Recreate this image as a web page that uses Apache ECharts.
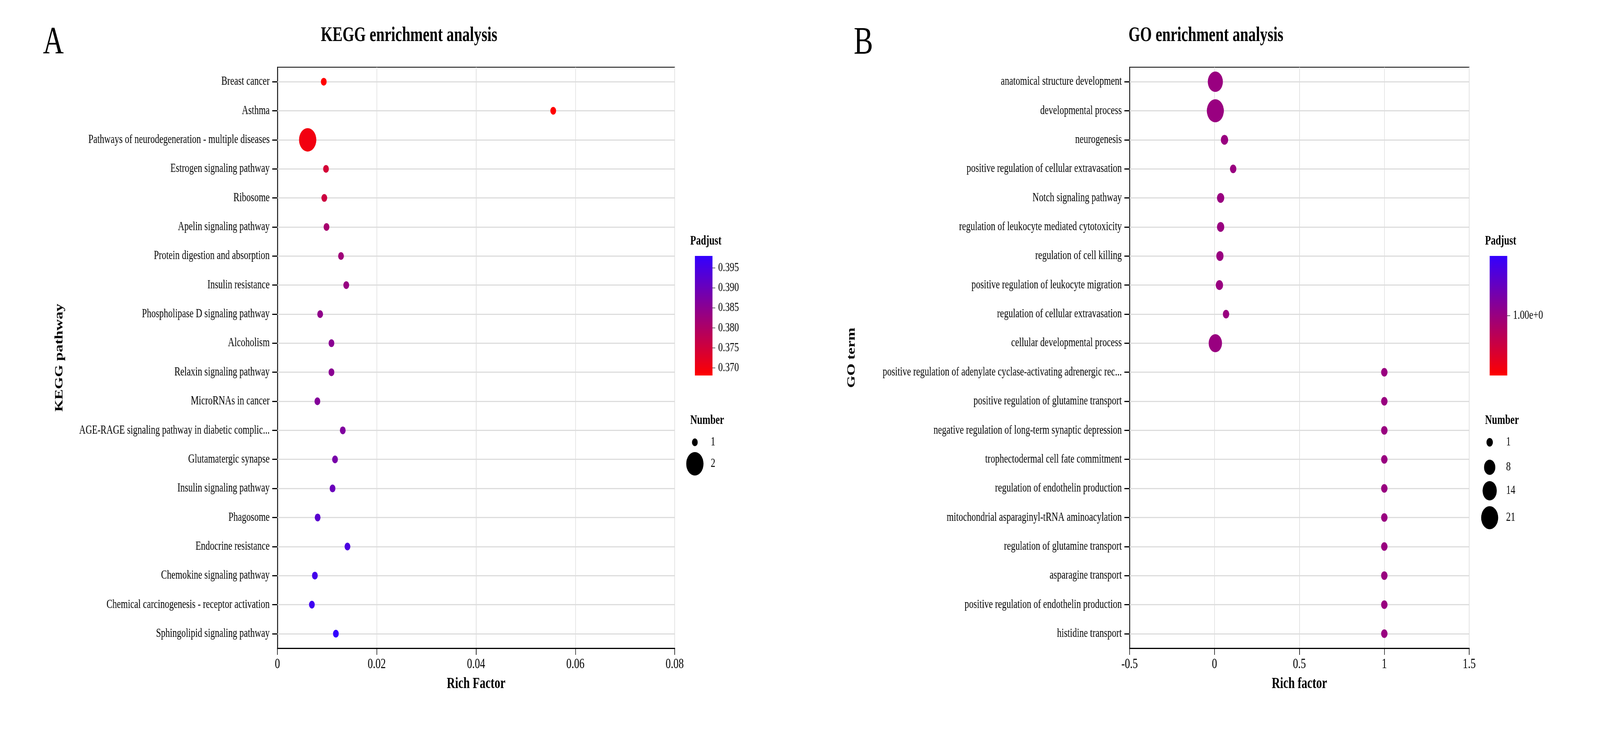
<!DOCTYPE html>
<html>
<head>
<meta charset="utf-8">
<script src="https://cdn.jsdelivr.net/npm/echarts@6/dist/echarts.min.js"></script>
<style>
html,body{margin:0;padding:0;background:#fff;overflow:hidden;}
#chart{width:5554px;height:1876px;transform-origin:0 0;}
</style>
</head>
<body>
<div id="chart"></div>
<script>
// ---------------- DATA ----------------
const keggTerms = [
  "Breast cancer","Asthma","Pathways of neurodegeneration - multiple diseases",
  "Estrogen signaling pathway","Ribosome","Apelin signaling pathway",
  "Protein digestion and absorption","Insulin resistance","Phospholipase D signaling pathway",
  "Alcoholism","Relaxin signaling pathway","MicroRNAs in cancer",
  "AGE-RAGE signaling pathway in diabetic complic...","Glutamatergic synapse","Insulin signaling pathway",
  "Phagosome","Endocrine resistance","Chemokine signaling pathway",
  "Chemical carcinogenesis - receptor activation","Sphingolipid signaling pathway"
];
const keggRichFactor = [0.00933,0.05554,0.00609,0.00978,0.00944,0.00988,0.0128,0.01386,0.0086,0.01088,
                        0.01088,0.00805,0.01316,0.0116,0.0111,0.0081,0.0141,0.00754,0.00694,0.01177];
const keggPadjust = [0.3681,0.3681,0.3700,0.3744,0.3756,0.3810,0.3822,0.3834,0.3843,0.3852,
                     0.3852,0.3861,0.3867,0.3879,0.3900,0.3924,0.3945,0.3957,0.3963,0.3980];
const keggNumber = [1,1,2,1,1,1,1,1,1,1,1,1,1,1,1,1,1,1,1,1];
const keggXTicks = {min:0, max:0.08, interval:0.02};
const keggPadjRange = [0.3681, 0.3980];
const keggPadjTicks = [0.370,0.375,0.380,0.385,0.390,0.395];
const keggNumberBreaks = [1,2];

const goTerms = [
  "anatomical structure development","developmental process","neurogenesis",
  "positive regulation of cellular extravasation","Notch signaling pathway",
  "regulation of leukocyte mediated cytotoxicity","regulation of cell killing",
  "positive regulation of leukocyte migration","regulation of cellular extravasation",
  "cellular developmental process",
  "positive regulation of adenylate cyclase-activating adrenergic rec...",
  "positive regulation of glutamine transport","negative regulation of long-term synaptic depression",
  "trophectodermal cell fate commitment","regulation of endothelin production",
  "mitochondrial asparaginyl-tRNA aminoacylation","regulation of glutamine transport",
  "asparagine transport","positive regulation of endothelin production","histidine transport"
];
const goRichFactor = [0.005,0.005,0.059,0.11,0.036,0.036,0.032,0.029,0.068,0.005,
                      1,1,1,1,1,1,1,1,1,1];
const goPadjust = [1,1,1,1,1,1,1,1,1,1,1,1,1,1,1,1,1,1,1,1];
const goNumber = [16,21,2,1,2,2,2,2,1,12,1,1,1,1,1,1,1,1,1,1];
const goXTicks = {min:-0.5, max:1.5, interval:0.5};
const goPadjRange = [0.99, 1.01];
const goPadjTicks = [1];
const goNumberBreaks = [1,8,14,21];

const gradientColors = ['#FF0000', '#3300FF']; // low -> high Padjust

// ---------------- LAYOUT ----------------
const W = 5554, H = 1876;
// fit the 5554x1876 drawing into whatever viewport the browser really has
(function fit(){
  const sx = Math.min(1, window.innerWidth / W), sy = Math.min(1, window.innerHeight / H);
  if (sx < 1 || sy < 1) document.getElementById('chart').style.transform = `scale(${sx},${sy})`;
})();

const FONT = "'Liberation Serif','Times New Roman',serif";
const panels = [
  {left:963, right:2342, top:172, bottom:1659, title:"KEGG enrichment analysis", titleX:1420,
   letter:"A", letterX:185, yName:"KEGG pathway", yNameX:207, xName:"Rich Factor",
   legX:2396, barX:2412, keyLabelX:2467, keyYs:[1132,1187]},
  {left:3921, right:5100, top:172, bottom:1659, title:"GO enrichment analysis", titleX:4186,
   letter:"B", letterX:2997, yName:"GO term", yNameX:2957, xName:"Rich factor",
   legX:5155, barX:5171, keyLabelX:5228, keyYs:[1132,1196,1256,1325]}
];
const barTop = 655, barBottom = 961, barW = 61;

function sizeFn(nMin, nMax, dMin, dMax) {
  return function(n) {
    const t = nMax === nMin ? 0 : (n - nMin) / (nMax - nMin);
    return Math.sqrt(dMin*dMin + (dMax*dMax - dMin*dMin) * t);
  };
}
const keggSize = sizeFn(1, 2, 20, 60);
const goSize = sizeFn(1, 21, 22, 59);

const datasets = [
  {terms:keggTerms, x:keggRichFactor, p:keggPadjust, n:keggNumber, ticks:keggXTicks,
   range:keggPadjRange, pticks:keggPadjTicks, fmt:v=>v.toFixed(3), breaks:keggNumberBreaks, size:keggSize},
  {terms:goTerms, x:goRichFactor, p:goPadjust, n:goNumber, ticks:goXTicks,
   range:goPadjRange, pticks:goPadjTicks, fmt:v=>v.toFixed(2)+'e+0', breaks:goNumberBreaks, size:goSize}
];

const grids = [], xAxes = [], yAxes = [], series = [], visualMaps = [], graphics = [];

datasets.forEach((d, i) => {
  const P = panels[i];
  grids.push({left:P.left, width:P.right-P.left, top:P.top, height:P.bottom-P.top,
              show:true, borderColor:'#000', borderWidth:2, backgroundColor:'transparent'});
  xAxes.push({type:'value', gridIndex:i, min:d.ticks.min, max:d.ticks.max, interval:d.ticks.interval,
    name:P.xName, nameLocation:'middle', nameGap:92,
    nameTextStyle:{fontFamily:FONT, fontSize:40, fontWeight:'bold', color:'#000', verticalAlign:'middle'},
    axisLine:{show:true, onZero:false, lineStyle:{color:'#000', width:3}},
    axisTick:{show:true, length:17, lineStyle:{color:'#000', width:2}},
    axisLabel:{fontFamily:FONT, fontSize:36, color:'#000', margin:24},
    splitLine:{show:true, lineStyle:{color:'#DDDDDD', width:2}}
  });
  yAxes.push({type:'category', gridIndex:i, data:d.terms, inverse:true, boundaryGap:true,
    name:P.yName, nameLocation:'middle', nameGap:P.left-P.yNameX, nameRotate:90,
    nameTextStyle:{fontFamily:FONT, fontSize:40, fontWeight:'bold', color:'#000', verticalAlign:'middle'},
    axisLine:{show:true, onZero:false, lineStyle:{color:'#000', width:3}},
    axisTick:{show:true, alignWithLabel:true, interval:0, length:18, lineStyle:{color:'#000', width:3}},
    axisLabel:{fontFamily:FONT, fontSize:31, color:'#000', margin:27, interval:0},
    splitLine:{show:false}
  });
  // horizontal guide lines at each category
  series.push({type:'scatter', xAxisIndex:i, yAxisIndex:i, data:[], z:1, silent:true,
    markLine:{silent:true, z:1, symbol:['none','none'], label:{show:false}, animation:false,
      lineStyle:{color:'#DDDDDD', width:3, type:'solid'},
      data:d.terms.map((t, k) => ({yAxis:k}))}
  });
  series.push({type:'scatter', xAxisIndex:i, yAxisIndex:i, z:3,
    data:d.terms.map((t, k) => [d.x[k], t, d.p[k], d.n[k]]),
    symbol:'circle',
    symbolSize:(v) => d.size(v[3]),
    itemStyle:{opacity:1}
  });
  visualMaps.push({type:'continuous', show:false, seriesIndex:series.length-1, dimension:2,
    min:d.range[0], max:d.range[1], inRange:{color:gradientColors}});

  graphics.push({type:'text', x:P.titleX, y:92, style:{text:P.title, font:`bold 52px ${FONT}`,
    fill:'#000', textAlign:'center', textVerticalAlign:'middle'}});
  graphics.push({type:'text', x:P.letterX, y:111, style:{text:P.letter, font:`100px ${FONT}`,
    fill:'#000', textAlign:'center', textVerticalAlign:'middle'}});

  graphics.push({type:'text', x:P.legX, y:617, style:{text:'Padjust', font:`bold 33px ${FONT}`,
    fill:'#000', textAlign:'left', textVerticalAlign:'middle'}});
  graphics.push({type:'rect', shape:{x:P.barX, y:barTop, width:barW, height:barBottom-barTop},
    style:{fill:new echarts.graphic.LinearGradient(0,0,0,1,[
      {offset:0, color:gradientColors[1]},{offset:1, color:gradientColors[0]}])}});
  d.pticks.forEach(v => {
    const yy = barBottom - (v - d.range[0]) / (d.range[1] - d.range[0]) * (barBottom - barTop);
    graphics.push({type:'line', shape:{x1:P.barX+barW, y1:yy, x2:P.barX+barW+10, y2:yy},
      style:{stroke:'#666', lineWidth:2}});
    graphics.push({type:'text', x:P.barX+barW+20, y:yy, style:{text:d.fmt(v), font:`32px ${FONT}`,
      fill:'#000', textAlign:'left', textVerticalAlign:'middle'}});
  });

  graphics.push({type:'text', x:P.legX, y:1076, style:{text:'Number', font:`bold 33px ${FONT}`,
    fill:'#000', textAlign:'left', textVerticalAlign:'middle'}});
  d.breaks.forEach((b, k) => {
    const yy = P.keyYs[k];
    graphics.push({type:'circle', shape:{cx:P.barX, cy:yy, r:d.size(b)/2}, style:{fill:'#000'}});
    graphics.push({type:'text', x:P.keyLabelX, y:yy, style:{text:String(b), font:`32px ${FONT}`,
      fill:'#000', textAlign:'left', textVerticalAlign:'middle'}});
  });
});

const chart = echarts.init(document.getElementById('chart'), null, {renderer:'canvas', width:W, height:H});
chart.setOption({
  backgroundColor:'#fff',
  animation:false,
  textStyle:{fontFamily:FONT},
  grid:grids, xAxis:xAxes, yAxis:yAxes, series:series, visualMap:visualMaps,
  graphic:{elements:graphics}
});
</script>
</body>
</html>
